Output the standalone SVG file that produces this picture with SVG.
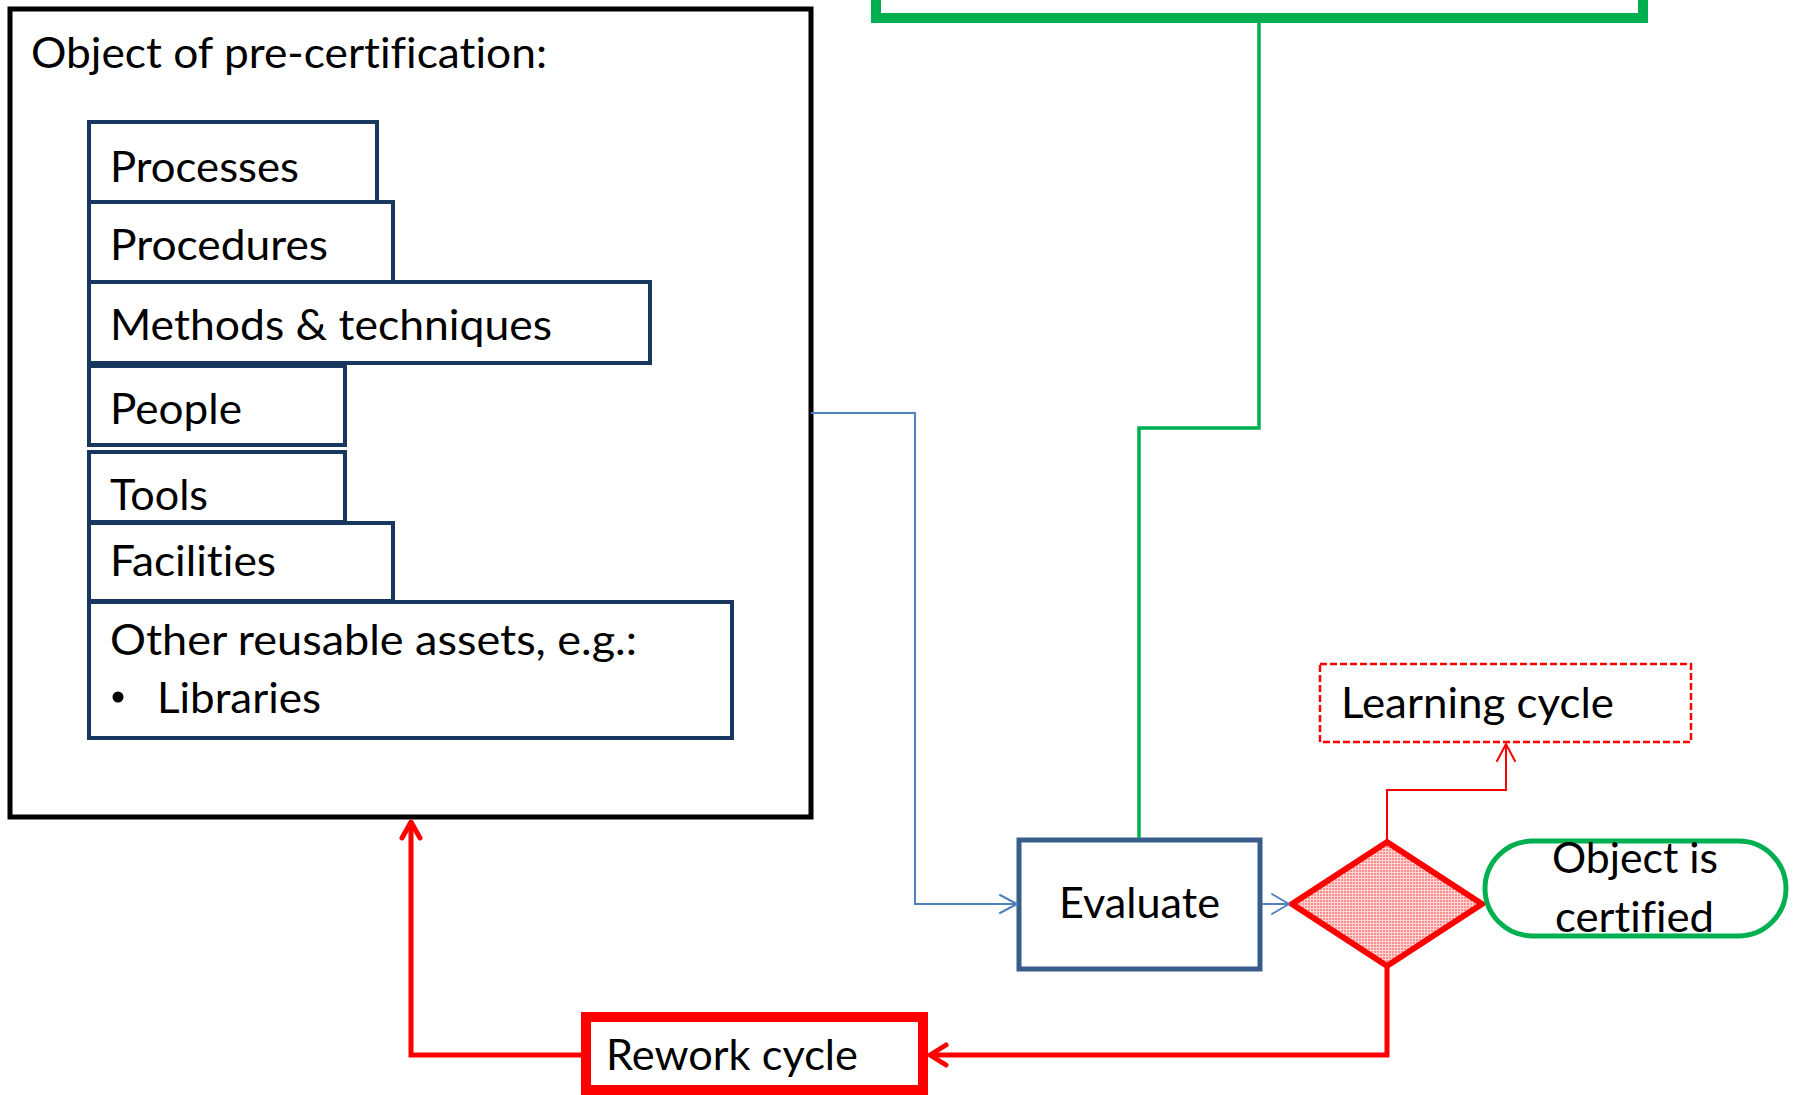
<svg xmlns="http://www.w3.org/2000/svg" width="1797" height="1095" viewBox="0 0 1797 1095">
  <style>
    .lbl { font-family: Lato, "Open Sans", "Liberation Sans", sans-serif; font-size: 42px; fill: #000; font-variant-ligatures: none; }
    .item { fill: #fff; stroke: #17375E; stroke-width: 4; }
    .blue { fill: none; stroke: #4F81BD; stroke-width: 2; }
    .red { fill: none; stroke: #FF0000; stroke-linejoin: miter; }
    .head { fill: none; stroke-linecap: round; stroke-linejoin: round; }
  </style>
  <defs>
    <pattern id="dots" width="3" height="3" patternUnits="userSpaceOnUse">
      <rect width="3" height="3" fill="#FF8C8C"/>
      <rect x="2" width="1" height="3" fill="#FFD6D6"/>
      <rect y="2" width="3" height="1" fill="#FFD6D6"/>
    </pattern>
  </defs>

  <rect width="1797" height="1095" fill="#fff"/>

  <!-- green frame running off the top edge -->
  <g id="top-frame">
    <rect x="876" y="-40" width="767" height="58" fill="#fff" stroke="#00B050" stroke-width="10"/>
  </g>

  <!-- container holding the object of pre-certification -->
  <g id="object">
    <rect x="10" y="9" width="801" height="808" fill="#fff" stroke="#000" stroke-width="5"/>
    <text class="lbl" x="31" y="68" textLength="516" lengthAdjust="spacingAndGlyphs">Object of pre-certification:</text>
  </g>

  <g id="processes">
    <rect class="item" x="89" y="122" width="288" height="80"/>
    <text class="lbl" x="110" y="182" textLength="189" lengthAdjust="spacingAndGlyphs">Processes</text>
  </g>
  <g id="procedures">
    <rect class="item" x="89" y="202" width="304" height="80"/>
    <text class="lbl" x="110" y="260" textLength="218" lengthAdjust="spacingAndGlyphs">Procedures</text>
  </g>
  <g id="methods">
    <rect class="item" x="89" y="282" width="561" height="81"/>
    <text class="lbl" x="110" y="340" textLength="442" lengthAdjust="spacingAndGlyphs">Methods &amp; techniques</text>
  </g>
  <g id="people">
    <rect class="item" x="89" y="366" width="256" height="79"/>
    <text class="lbl" x="110" y="424" textLength="132" lengthAdjust="spacingAndGlyphs">People</text>
  </g>
  <g id="tools">
    <rect class="item" x="89" y="452" width="256" height="70"/>
    <text class="lbl" x="110" y="510" textLength="98" lengthAdjust="spacingAndGlyphs">Tools</text>
  </g>
  <g id="facilities">
    <rect class="item" x="89" y="523" width="304" height="78"/>
    <text class="lbl" x="110" y="576" textLength="166" lengthAdjust="spacingAndGlyphs">Facilities</text>
  </g>
  <g id="other-assets">
    <rect class="item" x="89" y="602" width="643" height="136"/>
    <text class="lbl" x="110" y="655" textLength="527" lengthAdjust="spacingAndGlyphs">Other reusable assets, e.g.:</text>
    <circle cx="118" cy="697" r="5.5" fill="#000"/>
    <text class="lbl" x="157" y="713" textLength="164" lengthAdjust="spacingAndGlyphs">Libraries</text>
  </g>

  <!-- process flow nodes -->
  <g id="evaluate">
    <rect x="1019" y="840" width="241" height="129" fill="#fff" stroke="#385D8A" stroke-width="5"/>
    <text class="lbl" x="1059" y="918" textLength="161" lengthAdjust="spacingAndGlyphs">Evaluate</text>
  </g>
  <g id="decision">
    <polygon points="1387,842 1482,904 1387,966 1292,904" fill="url(#dots)" stroke="#FF0000" stroke-width="6" stroke-linejoin="miter"/>
  </g>
  <g id="certified">
    <rect x="1485" y="841" width="301" height="95" rx="47.5" ry="47.5" fill="#fff" stroke="#00B050" stroke-width="5"/>
    <text class="lbl" x="1552" y="873" textLength="166" lengthAdjust="spacingAndGlyphs">Object is</text>
    <text class="lbl" x="1555" y="932" textLength="159" lengthAdjust="spacingAndGlyphs">certified</text>
  </g>
  <g id="learning">
    <rect x="1320" y="664" width="371" height="78" fill="#fff" stroke="#FF0000" stroke-width="2.5" stroke-dasharray="7,3"/>
    <text class="lbl" x="1341" y="718" textLength="273" lengthAdjust="spacingAndGlyphs">Learning cycle</text>
  </g>
  <g id="rework">
    <rect x="586" y="1017" width="337" height="73" fill="#fff" stroke="#FF0000" stroke-width="10"/>
    <text class="lbl" x="606" y="1070" textLength="252" lengthAdjust="spacingAndGlyphs">Rework cycle</text>
  </g>

  <!-- connectors -->
  <g id="connectors">
    <!-- frame down to Evaluate -->
    <polyline points="1259,23 1259,428 1139,428 1139,838" fill="none" stroke="#00B050" stroke-width="3.5"/>
    <!-- object to Evaluate -->
    <polyline class="blue" points="811,413 915,413 915,904 1017,904"/>
    <polyline class="blue head" points="1000,895 1017,904 1000,913"/>
    <!-- Evaluate to decision -->
    <line class="blue" x1="1262" y1="904" x2="1289" y2="904"/>
    <polyline class="blue head" points="1272,894 1289,904 1272,914"/>
    <!-- decision to learning cycle -->
    <polyline class="red" stroke-width="2" points="1387,839 1387,790 1506,790 1506,744"/>
    <polyline class="head" stroke="#FF0000" stroke-width="2" points="1497,761 1506,744 1515,761"/>
    <!-- decision to rework -->
    <polyline class="red" stroke-width="5" points="1387,968 1387,1055 930,1055"/>
    <polyline class="head" stroke="#FF0000" stroke-width="5" points="946,1045 930,1055 946,1065"/>
    <!-- rework back to object -->
    <polyline class="red" stroke-width="5" points="581,1055 411,1055 411,822"/>
    <polyline class="head" stroke="#FF0000" stroke-width="5" points="402,838 411,822 420,838"/>
  </g>
</svg>
